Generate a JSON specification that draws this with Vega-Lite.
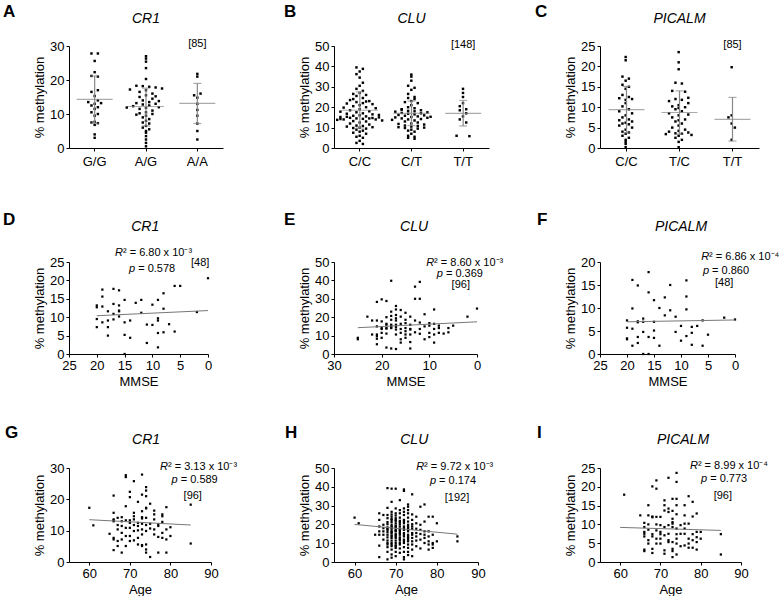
{
"$schema":"https://vega.github.io/schema/vega-lite/v6.json",
"background":"white",
"padding":{"left":3,"top":3,"right":0,"bottom":0},
"bounds":"flush",
"columns":3,
"spacing":{"row":114,"column":111},
"config":{
 "font":"Liberation Sans",
 "view":{"stroke":null},
 "axis":{"grid":false,"domainColor":"#000","tickColor":"#000","labelColor":"#000","titleColor":"#000","labelFontSize":13,"titleFontSize":13,"titleFontWeight":"normal","tickSize":3,"labelPadding":2,"labelFlush":false,"labelOverlap":false,"labelBound":false,"titlePadding":3},
 "title":{"fontSize":17,"fontWeight":"bold","anchor":"start","frame":"group","color":"#000","offset":-9,"font":"Liberation Sans"}
},
"datasets":{
"A":[{"g":"G/G","v":27.8,"k":-1},{"g":"G/G","v":27.8,"k":1},{"g":"G/G","v":25.6,"k":0},{"g":"G/G","v":22.3,"k":0},{"g":"G/G","v":21.2,"k":-1},{"g":"G/G","v":21.0,"k":1},{"g":"G/G","v":17.0,"k":1},{"g":"G/G","v":16.5,"k":-1},{"g":"G/G","v":15.3,"k":0},{"g":"G/G","v":14.0,"k":1},{"g":"G/G","v":13.5,"k":-2},{"g":"G/G","v":13.0,"k":0},{"g":"G/G","v":13.2,"k":2},{"g":"G/G","v":12.5,"k":-1},{"g":"G/G","v":12.0,"k":1},{"g":"G/G","v":11.5,"k":0},{"g":"G/G","v":10.5,"k":-1},{"g":"G/G","v":10.0,"k":1},{"g":"G/G","v":9.5,"k":0},{"g":"G/G","v":7.5,"k":-1},{"g":"G/G","v":7.3,"k":1},{"g":"G/G","v":7.7,"k":0},{"g":"G/G","v":6.8,"k":0},{"g":"G/G","v":4.0,"k":0},{"g":"G/G","v":3.0,"k":0},
{"g":"A/G","v":27.0,"k":0},{"g":"A/G","v":26.3,"k":0},{"g":"A/G","v":25.4,"k":0},{"g":"A/G","v":23.5,"k":0},{"g":"A/G","v":20.3,"k":0},{"g":"A/G","v":18.3,"k":-3},{"g":"A/G","v":18.2,"k":-1},{"g":"A/G","v":18.0,"k":1},{"g":"A/G","v":17.8,"k":3},{"g":"A/G","v":17.5,"k":5},{"g":"A/G","v":17.2,"k":-5},{"g":"A/G","v":17.0,"k":0},{"g":"A/G","v":16.5,"k":-2},{"g":"A/G","v":16.0,"k":2},{"g":"A/G","v":15.5,"k":0},{"g":"A/G","v":15.0,"k":-2},{"g":"A/G","v":14.5,"k":2},{"g":"A/G","v":14.0,"k":-1},{"g":"A/G","v":13.5,"k":1},{"g":"A/G","v":13.2,"k":-3},{"g":"A/G","v":13.0,"k":3},{"g":"A/G","v":12.8,"k":-1},{"g":"A/G","v":12.5,"k":1},{"g":"A/G","v":12.3,"k":-4},{"g":"A/G","v":12.0,"k":4},{"g":"A/G","v":11.8,"k":0},{"g":"A/G","v":11.5,"k":-2},{"g":"A/G","v":11.0,"k":2},{"g":"A/G","v":10.5,"k":0},{"g":"A/G","v":10.2,"k":-2},{"g":"A/G","v":10.0,"k":2},{"g":"A/G","v":9.5,"k":0},{"g":"A/G","v":9.0,"k":-1},{"g":"A/G","v":8.5,"k":1},{"g":"A/G","v":8.0,"k":0},{"g":"A/G","v":7.5,"k":-1},{"g":"A/G","v":7.2,"k":1},{"g":"A/G","v":6.5,"k":0},{"g":"A/G","v":6.0,"k":-1},{"g":"A/G","v":5.5,"k":1},{"g":"A/G","v":5.0,"k":0},{"g":"A/G","v":4.5,"k":0},{"g":"A/G","v":3.5,"k":0},{"g":"A/G","v":2.5,"k":0},{"g":"A/G","v":1.5,"k":0},{"g":"A/G","v":0.5,"k":0},{"g":"A/G","v":13.8,"k":4},{"g":"A/G","v":15.2,"k":3},{"g":"A/G","v":9.8,"k":-3},{"g":"A/G","v":11.9,"k":-6},
{"g":"A/A","v":21.8,"k":0},{"g":"A/A","v":21.0,"k":0},{"g":"A/A","v":16.0,"k":1},{"g":"A/A","v":15.5,"k":-1},{"g":"A/A","v":14.8,"k":0},{"g":"A/A","v":13.0,"k":0},{"g":"A/A","v":11.2,"k":0},{"g":"A/A","v":9.5,"k":0},{"g":"A/A","v":7.2,"k":0},{"g":"A/A","v":5.0,"k":0},{"g":"A/A","v":2.5,"k":0}],
"As":[{"g":"G/G","m":14.3,"lo":7.3,"hi":21.2},{"g":"A/G","m":12.2,"lo":6.5,"hi":17.6},{"g":"A/A","m":13.1,"lo":7.2,"hi":19.0}],
"B":[{"g":"C/C","v":39.5,"k":-1},{"g":"C/C","v":38.8,"k":1},{"g":"C/C","v":37.5,"k":0},{"g":"C/C","v":36.2,"k":-1},{"g":"C/C","v":34.5,"k":0},{"g":"C/C","v":32.0,"k":1},{"g":"C/C","v":30.5,"k":0},{"g":"C/C","v":29.0,"k":-1},{"g":"C/C","v":28.0,"k":1},{"g":"C/C","v":27.0,"k":0},{"g":"C/C","v":26.5,"k":-2},{"g":"C/C","v":26.0,"k":2},{"g":"C/C","v":25.5,"k":-1},{"g":"C/C","v":24.5,"k":1},{"g":"C/C","v":23.5,"k":-3},{"g":"C/C","v":23.0,"k":3},{"g":"C/C","v":22.5,"k":-1},{"g":"C/C","v":22.0,"k":1},{"g":"C/C","v":21.8,"k":-4},{"g":"C/C","v":21.5,"k":4},{"g":"C/C","v":21.0,"k":0},{"g":"C/C","v":20.5,"k":-2},{"g":"C/C","v":20.0,"k":2},{"g":"C/C","v":19.8,"k":-5},{"g":"C/C","v":19.5,"k":5},{"g":"C/C","v":19.0,"k":0},{"g":"C/C","v":18.5,"k":-3},{"g":"C/C","v":18.0,"k":3},{"g":"C/C","v":17.5,"k":-1},{"g":"C/C","v":17.0,"k":1},{"g":"C/C","v":16.8,"k":-4},{"g":"C/C","v":16.5,"k":4},{"g":"C/C","v":16.0,"k":0},{"g":"C/C","v":15.8,"k":-2},{"g":"C/C","v":15.5,"k":2},{"g":"C/C","v":15.2,"k":-6},{"g":"C/C","v":15.0,"k":6},{"g":"C/C","v":14.8,"k":-3},{"g":"C/C","v":14.5,"k":3},{"g":"C/C","v":14.5,"k":-1},{"g":"C/C","v":14.3,"k":1},{"g":"C/C","v":14.0,"k":-5},{"g":"C/C","v":14.0,"k":5},{"g":"C/C","v":13.8,"k":-7},{"g":"C/C","v":13.5,"k":7},{"g":"C/C","v":13.2,"k":-2},{"g":"C/C","v":13.0,"k":2},{"g":"C/C","v":12.5,"k":0},{"g":"C/C","v":12.0,"k":-3},{"g":"C/C","v":11.5,"k":3},{"g":"C/C","v":11.0,"k":-1},{"g":"C/C","v":10.8,"k":1},{"g":"C/C","v":10.5,"k":-4},{"g":"C/C","v":10.2,"k":4},{"g":"C/C","v":10.0,"k":0},{"g":"C/C","v":9.8,"k":-2},{"g":"C/C","v":9.5,"k":2},{"g":"C/C","v":9.0,"k":-1},{"g":"C/C","v":8.5,"k":1},{"g":"C/C","v":8.0,"k":0},{"g":"C/C","v":7.5,"k":-2},{"g":"C/C","v":7.0,"k":2},{"g":"C/C","v":6.0,"k":0},{"g":"C/C","v":5.5,"k":-1},{"g":"C/C","v":5.0,"k":1},{"g":"C/C","v":3.5,"k":0},{"g":"C/C","v":2.5,"k":-1},{"g":"C/C","v":2.0,"k":1},{"g":"C/C","v":24.0,"k":-2},{"g":"C/C","v":22.8,"k":2},{"g":"C/C","v":17.8,"k":-6},{"g":"C/C","v":16.2,"k":6},{"g":"C/C","v":15.3,"k":-4},{"g":"C/C","v":14.7,"k":4},{"g":"C/C","v":14.2,"k":-6},
{"g":"C/T","v":36.0,"k":0},{"g":"C/T","v":35.0,"k":0},{"g":"C/T","v":33.0,"k":0},{"g":"C/T","v":30.5,"k":-1},{"g":"C/T","v":29.5,"k":1},{"g":"C/T","v":28.5,"k":0},{"g":"C/T","v":26.5,"k":-1},{"g":"C/T","v":25.0,"k":1},{"g":"C/T","v":24.5,"k":-1},{"g":"C/T","v":24.0,"k":1},{"g":"C/T","v":23.0,"k":0},{"g":"C/T","v":22.5,"k":-2},{"g":"C/T","v":22.0,"k":2},{"g":"C/T","v":21.0,"k":0},{"g":"C/T","v":20.0,"k":-1},{"g":"C/T","v":19.5,"k":1},{"g":"C/T","v":19.0,"k":-3},{"g":"C/T","v":18.5,"k":3},{"g":"C/T","v":18.2,"k":-1},{"g":"C/T","v":18.0,"k":1},{"g":"C/T","v":17.8,"k":-5},{"g":"C/T","v":17.5,"k":5},{"g":"C/T","v":17.2,"k":-3},{"g":"C/T","v":17.0,"k":3},{"g":"C/T","v":16.8,"k":-1},{"g":"C/T","v":16.5,"k":1},{"g":"C/T","v":16.2,"k":-4},{"g":"C/T","v":16.0,"k":4},{"g":"C/T","v":15.8,"k":-2},{"g":"C/T","v":15.5,"k":2},{"g":"C/T","v":15.2,"k":0},{"g":"C/T","v":15.0,"k":-5},{"g":"C/T","v":14.8,"k":5},{"g":"C/T","v":14.5,"k":-3},{"g":"C/T","v":14.2,"k":3},{"g":"C/T","v":14.0,"k":-1},{"g":"C/T","v":13.5,"k":1},{"g":"C/T","v":13.0,"k":-2},{"g":"C/T","v":12.5,"k":2},{"g":"C/T","v":12.0,"k":0},{"g":"C/T","v":11.8,"k":-4},{"g":"C/T","v":11.5,"k":4},{"g":"C/T","v":11.0,"k":-2},{"g":"C/T","v":10.8,"k":2},{"g":"C/T","v":10.5,"k":0},{"g":"C/T","v":10.2,"k":-4},{"g":"C/T","v":10.0,"k":4},{"g":"C/T","v":9.8,"k":-2},{"g":"C/T","v":9.5,"k":2},{"g":"C/T","v":9.0,"k":0},{"g":"C/T","v":8.5,"k":-1},{"g":"C/T","v":8.0,"k":1},{"g":"C/T","v":7.0,"k":0},{"g":"C/T","v":6.0,"k":-1},{"g":"C/T","v":5.5,"k":1},{"g":"C/T","v":5.0,"k":-1},{"g":"C/T","v":4.5,"k":1},{"g":"C/T","v":18.8,"k":-3},{"g":"C/T","v":15.3,"k":6},{"g":"C/T","v":13.8,"k":-6},
{"g":"T/T","v":29.0,"k":0},{"g":"T/T","v":27.0,"k":0},{"g":"T/T","v":25.0,"k":0},{"g":"T/T","v":22.0,"k":0},{"g":"T/T","v":20.5,"k":-1},{"g":"T/T","v":19.0,"k":1},{"g":"T/T","v":18.5,"k":-1},{"g":"T/T","v":17.0,"k":1},{"g":"T/T","v":15.5,"k":0},{"g":"T/T","v":14.0,"k":-1},{"g":"T/T","v":12.5,"k":1},{"g":"T/T","v":6.0,"k":-2},{"g":"T/T","v":5.8,"k":2}],
"Bs":[{"g":"C/C","m":18.5,"lo":9.8,"hi":27.5},{"g":"C/T","m":17.0,"lo":11.0,"hi":23.0},{"g":"T/T","m":17.0,"lo":10.8,"hi":23.3}],
"C":[{"g":"C/C","v":22.3,"k":0},{"g":"C/C","v":21.5,"k":0},{"g":"C/C","v":17.5,"k":-1},{"g":"C/C","v":17.0,"k":1},{"g":"C/C","v":16.5,"k":0},{"g":"C/C","v":15.5,"k":-1},{"g":"C/C","v":15.0,"k":1},{"g":"C/C","v":14.5,"k":0},{"g":"C/C","v":13.0,"k":-1},{"g":"C/C","v":12.5,"k":1},{"g":"C/C","v":12.2,"k":-2},{"g":"C/C","v":12.0,"k":2},{"g":"C/C","v":11.8,"k":0},{"g":"C/C","v":11.0,"k":0},{"g":"C/C","v":10.2,"k":-1},{"g":"C/C","v":9.5,"k":1},{"g":"C/C","v":9.0,"k":-2},{"g":"C/C","v":8.5,"k":2},{"g":"C/C","v":8.0,"k":0},{"g":"C/C","v":7.5,"k":-1},{"g":"C/C","v":7.0,"k":1},{"g":"C/C","v":6.8,"k":-2},{"g":"C/C","v":6.5,"k":2},{"g":"C/C","v":6.2,"k":0},{"g":"C/C","v":6.0,"k":-1},{"g":"C/C","v":5.8,"k":1},{"g":"C/C","v":5.5,"k":-2},{"g":"C/C","v":5.0,"k":2},{"g":"C/C","v":4.5,"k":0},{"g":"C/C","v":4.0,"k":-1},{"g":"C/C","v":3.8,"k":1},{"g":"C/C","v":3.5,"k":0},{"g":"C/C","v":3.0,"k":-1},{"g":"C/C","v":2.5,"k":1},{"g":"C/C","v":2.0,"k":0},{"g":"C/C","v":1.5,"k":0},{"g":"C/C","v":1.0,"k":0},{"g":"C/C","v":0.2,"k":0},
{"g":"T/C","v":23.5,"k":0},{"g":"T/C","v":21.0,"k":0},{"g":"T/C","v":19.3,"k":0},{"g":"T/C","v":16.0,"k":-1},{"g":"T/C","v":15.8,"k":1},{"g":"T/C","v":14.0,"k":-2},{"g":"T/C","v":13.8,"k":2},{"g":"T/C","v":12.0,"k":-1},{"g":"T/C","v":11.8,"k":1},{"g":"T/C","v":11.5,"k":-3},{"g":"T/C","v":11.0,"k":3},{"g":"T/C","v":10.5,"k":0},{"g":"T/C","v":10.2,"k":-2},{"g":"T/C","v":10.0,"k":2},{"g":"T/C","v":9.8,"k":0},{"g":"T/C","v":9.5,"k":-1},{"g":"T/C","v":9.0,"k":1},{"g":"T/C","v":8.5,"k":-3},{"g":"T/C","v":8.2,"k":3},{"g":"T/C","v":8.0,"k":0},{"g":"T/C","v":7.5,"k":-2},{"g":"T/C","v":7.0,"k":2},{"g":"T/C","v":6.8,"k":0},{"g":"T/C","v":6.5,"k":-1},{"g":"T/C","v":6.0,"k":1},{"g":"T/C","v":5.5,"k":0},{"g":"T/C","v":5.0,"k":-2},{"g":"T/C","v":4.5,"k":2},{"g":"T/C","v":4.2,"k":0},{"g":"T/C","v":4.0,"k":-3},{"g":"T/C","v":3.8,"k":3},{"g":"T/C","v":3.6,"k":-1},{"g":"T/C","v":3.5,"k":1},{"g":"T/C","v":3.4,"k":-4},{"g":"T/C","v":3.2,"k":4},{"g":"T/C","v":3.0,"k":0},{"g":"T/C","v":2.5,"k":-1},{"g":"T/C","v":2.0,"k":1},{"g":"T/C","v":1.5,"k":0},{"g":"T/C","v":0.2,"k":0},{"g":"T/C","v":12.3,"k":3},
{"g":"T/T","v":19.8,"k":0},{"g":"T/T","v":8.0,"k":0},{"g":"T/T","v":7.5,"k":-1},{"g":"T/T","v":6.0,"k":0},{"g":"T/T","v":5.0,"k":1},{"g":"T/T","v":2.0,"k":0}],
"Cs":[{"g":"C/C","m":9.4,"lo":3.7,"hi":15.1},{"g":"T/C","m":8.7,"lo":3.4,"hi":14.0},{"g":"T/T","m":7.0,"lo":1.7,"hi":12.4}],
"D":[{"x":20,"y":12.7},{"x":20,"y":13.2},{"x":20,"y":9.5},{"x":20,"y":7.3},{"x":19,"y":17.5},{"x":19,"y":15.6},{"x":19,"y":12.9},{"x":19,"y":8.6},{"x":18,"y":11.6},{"x":18,"y":9.1},{"x":18,"y":7.3},{"x":18,"y":5.0},{"x":17,"y":17.7},{"x":17,"y":13.6},{"x":17,"y":10.9},{"x":17,"y":9.4},{"x":16,"y":17.3},{"x":16,"y":13.2},{"x":16,"y":11.8},{"x":16,"y":11.6},{"x":16,"y":10.2},{"x":15,"y":14.7},{"x":15,"y":8.6},{"x":15,"y":5.2},{"x":15,"y":0},{"x":14,"y":9.1},{"x":14,"y":4.4},{"x":13,"y":13.9},{"x":12,"y":14.7},{"x":12,"y":11.2},{"x":11,"y":8.0},{"x":11,"y":3.0},{"x":10,"y":13.4},{"x":10,"y":7.9},{"x":9,"y":14.7},{"x":9,"y":9.7},{"x":9,"y":9.1},{"x":9,"y":5.7},{"x":9,"y":1.8},{"x":8,"y":16.5},{"x":8,"y":12.3},{"x":8,"y":5.9},{"x":7,"y":8.1},{"x":6,"y":18.5},{"x":6,"y":6.1},{"x":5,"y":18.5},{"x":2,"y":11.4},{"x":0,"y":20.6}],
"Dl":[{"x":20,"y":10.4},{"x":0,"y":11.8}],
"E":[{"x":25,"y":8.0},{"x":25,"y":8.8},{"x":23,"y":20.3},{"x":22,"y":18.2},{"x":22,"y":10.6},{"x":21,"y":28.3},{"x":21,"y":18.2},{"x":21,"y":15.0},{"x":21,"y":10.6},{"x":21,"y":9.7},{"x":21,"y":8.3},{"x":21,"y":5.3},{"x":20,"y":29.7},{"x":20,"y":17.7},{"x":20,"y":14.1},{"x":20,"y":13.6},{"x":20,"y":8.8},{"x":20,"y":11.5},{"x":19,"y":28.8},{"x":19,"y":20.0},{"x":19,"y":16.4},{"x":19,"y":15.9},{"x":19,"y":14.1},{"x":19,"y":13.8},{"x":19,"y":3.5},{"x":19,"y":11.1},{"x":18,"y":39.8},{"x":18,"y":23.0},{"x":18,"y":20.7},{"x":18,"y":15.9},{"x":18,"y":15.4},{"x":18,"y":14.5},{"x":18,"y":14.1},{"x":18,"y":3.0},{"x":18,"y":18.6},{"x":17,"y":26.1},{"x":17,"y":24.2},{"x":17,"y":21.2},{"x":17,"y":19.4},{"x":17,"y":18.2},{"x":17,"y":15.9},{"x":17,"y":13.3},{"x":17,"y":10.6},{"x":17,"y":2.7},{"x":17,"y":14.7},{"x":16,"y":23.9},{"x":16,"y":20.3},{"x":16,"y":16.4},{"x":16,"y":13.6},{"x":16,"y":11.5},{"x":16,"y":8.0},{"x":16,"y":6.2},{"x":15,"y":22.4},{"x":15,"y":18.6},{"x":15,"y":16.8},{"x":15,"y":14.1},{"x":15,"y":10.6},{"x":15,"y":8.8},{"x":15,"y":12.4},{"x":14,"y":20.3},{"x":14,"y":15.9},{"x":14,"y":13.6},{"x":14,"y":13.3},{"x":14,"y":6.5},{"x":14,"y":3.0},{"x":14,"y":10.6},{"x":13,"y":36.6},{"x":13,"y":30.0},{"x":13,"y":18.2},{"x":13,"y":11.8},{"x":12,"y":39.2},{"x":12,"y":30.0},{"x":12,"y":17.1},{"x":12,"y":13.6},{"x":12,"y":11.0},{"x":11,"y":21.6},{"x":11,"y":15.0},{"x":11,"y":8.0},{"x":10,"y":16.8},{"x":10,"y":15.4},{"x":10,"y":11.5},{"x":10,"y":9.2},{"x":9,"y":24.2},{"x":9,"y":16.4},{"x":9,"y":13.6},{"x":9,"y":10.6},{"x":9,"y":6.2},{"x":8,"y":15.4},{"x":8,"y":14.1},{"x":8,"y":11.5},{"x":7,"y":11.1},{"x":6,"y":14.1},{"x":6,"y":11.8},{"x":5,"y":15.4},{"x":2,"y":20.3},{"x":0,"y":24.7}],
"El":[{"x":25,"y":14.3},{"x":0,"y":17.5}],
"F":[{"x":20,"y":7.3},{"x":20,"y":5.7},{"x":20,"y":3.4},{"x":20,"y":3.2},{"x":19,"y":16.1},{"x":19,"y":9.9},{"x":19,"y":5.5},{"x":19,"y":1.8},{"x":18,"y":14.9},{"x":18,"y":7.1},{"x":18,"y":3.7},{"x":18,"y":2.4},{"x":18,"y":6.9},{"x":17,"y":7.7},{"x":17,"y":7.0},{"x":17,"y":4.8},{"x":17,"y":0},{"x":16,"y":17.8},{"x":16,"y":13.4},{"x":16,"y":3.7},{"x":16,"y":0},{"x":15,"y":11.7},{"x":15,"y":7.0},{"x":15,"y":5.1},{"x":15,"y":3.5},{"x":14,"y":10.0},{"x":14,"y":1.8},{"x":13,"y":12.3},{"x":13,"y":8.4},{"x":12,"y":15.0},{"x":12,"y":9.5},{"x":11,"y":8.1},{"x":11,"y":4.8},{"x":10,"y":6.1},{"x":10,"y":2.9},{"x":9,"y":16.0},{"x":9,"y":12.5},{"x":9,"y":9.7},{"x":9,"y":3.9},{"x":8,"y":5.9},{"x":8,"y":4.6},{"x":8,"y":2.0},{"x":7,"y":6.1},{"x":6,"y":7.3},{"x":6,"y":1.8},{"x":5,"y":4.2},{"x":2,"y":7.9},{"x":0,"y":7.5}],
"Fl":[{"x":20,"y":7.0},{"x":0,"y":7.4}],
"G":[{"x":60,"y":17.3},{"x":61,"y":11.7},{"x":65,"y":9.0},{"x":66,"y":21.2},{"x":66,"y":15.7},{"x":66,"y":13.6},{"x":66,"y":13.0},{"x":66,"y":7.7},{"x":66,"y":7.2},{"x":66,"y":3.8},{"x":66,"y":13.3},{"x":67,"y":14.1},{"x":67,"y":10.4},{"x":67,"y":6.7},{"x":67,"y":5.1},{"x":67,"y":11.8},{"x":68,"y":14.3},{"x":68,"y":13.0},{"x":68,"y":9.3},{"x":68,"y":7.2},{"x":68,"y":3.0},{"x":68,"y":11.5},{"x":69,"y":27.7},{"x":69,"y":27.1},{"x":69,"y":17.8},{"x":69,"y":13.3},{"x":69,"y":10.9},{"x":69,"y":8.3},{"x":69,"y":5.1},{"x":70,"y":22.4},{"x":70,"y":20.7},{"x":70,"y":13.3},{"x":70,"y":12.5},{"x":70,"y":8.3},{"x":70,"y":6.7},{"x":70,"y":10.9},{"x":71,"y":25.8},{"x":71,"y":15.7},{"x":71,"y":14.6},{"x":71,"y":13.6},{"x":71,"y":9.9},{"x":71,"y":6.9},{"x":71,"y":11.8},{"x":72,"y":19.2},{"x":72,"y":12.5},{"x":72,"y":11.5},{"x":72,"y":10.1},{"x":72,"y":5.6},{"x":72,"y":7.7},{"x":73,"y":27.9},{"x":73,"y":21.5},{"x":73,"y":16.2},{"x":73,"y":14.3},{"x":73,"y":12.2},{"x":73,"y":10.4},{"x":73,"y":8.8},{"x":73,"y":5.4},{"x":73,"y":5.1},{"x":73,"y":13.9},{"x":74,"y":23.9},{"x":74,"y":22.8},{"x":74,"y":21.0},{"x":74,"y":17.3},{"x":74,"y":17.1},{"x":74,"y":14.1},{"x":74,"y":11.8},{"x":74,"y":9.9},{"x":74,"y":5.6},{"x":74,"y":4.0},{"x":74,"y":3.0},{"x":75,"y":18.6},{"x":75,"y":12.2},{"x":75,"y":1.6},{"x":75,"y":10.7},{"x":76,"y":16.4},{"x":76,"y":15.2},{"x":76,"y":13.6},{"x":76,"y":8.8},{"x":76,"y":10.4},{"x":77,"y":12.0},{"x":77,"y":11.5},{"x":77,"y":8.0},{"x":77,"y":3.0},{"x":78,"y":15.2},{"x":78,"y":14.6},{"x":78,"y":12.8},{"x":78,"y":9.3},{"x":78,"y":7.7},{"x":79,"y":17.5},{"x":79,"y":10.4},{"x":79,"y":7.2},{"x":79,"y":3.0},{"x":80,"y":11.1},{"x":80,"y":8.3},{"x":85,"y":18.3},{"x":85,"y":5.9}],
"Gl":[{"x":60,"y":13.5},{"x":85,"y":11.8}],
"H":[{"x":60,"y":23.6},{"x":61,"y":20.6},{"x":65,"y":14.5},{"x":66,"y":25.9},{"x":66,"y":22.4},{"x":66,"y":18.9},{"x":66,"y":14.5},{"x":66,"y":8.7},{"x":66,"y":2.6},{"x":66,"y":16.3},{"x":67,"y":25.0},{"x":67,"y":19.8},{"x":67,"y":16.3},{"x":67,"y":14.5},{"x":67,"y":11.9},{"x":67,"y":18.0},{"x":68,"y":39.3},{"x":68,"y":28.8},{"x":68,"y":23.3},{"x":68,"y":20.1},{"x":68,"y":18.4},{"x":68,"y":17.1},{"x":68,"y":15.9},{"x":68,"y":14.5},{"x":68,"y":13.1},{"x":68,"y":11.4},{"x":68,"y":9.3},{"x":68,"y":5.4},{"x":68,"y":1.4},{"x":68,"y":25.0},{"x":68,"y":21.2},{"x":68,"y":17.7},{"x":68,"y":10.1},{"x":68,"y":7.9},{"x":69,"y":39.0},{"x":69,"y":32.0},{"x":69,"y":26.7},{"x":69,"y":25.3},{"x":69,"y":24.1},{"x":69,"y":22.4},{"x":69,"y":21.2},{"x":69,"y":19.8},{"x":69,"y":18.9},{"x":69,"y":17.7},{"x":69,"y":16.6},{"x":69,"y":15.4},{"x":69,"y":14.2},{"x":69,"y":12.8},{"x":69,"y":11.4},{"x":69,"y":10.1},{"x":69,"y":8.4},{"x":69,"y":6.6},{"x":69,"y":4.0},{"x":69,"y":2.3},{"x":69,"y":22.9},{"x":69,"y":18.4},{"x":69,"y":15.9},{"x":69,"y":13.6},{"x":69,"y":9.3},{"x":70,"y":39.0},{"x":70,"y":28.5},{"x":70,"y":25.9},{"x":70,"y":24.7},{"x":70,"y":23.3},{"x":70,"y":21.9},{"x":70,"y":20.6},{"x":70,"y":19.4},{"x":70,"y":18.4},{"x":70,"y":17.1},{"x":70,"y":16.3},{"x":70,"y":14.9},{"x":70,"y":13.6},{"x":70,"y":12.8},{"x":70,"y":11.4},{"x":70,"y":10.1},{"x":70,"y":8.9},{"x":70,"y":7.5},{"x":70,"y":5.4},{"x":70,"y":3.1},{"x":70,"y":22.4},{"x":70,"y":18.9},{"x":70,"y":16.6},{"x":70,"y":14.2},{"x":70,"y":8.4},{"x":71,"y":32.9},{"x":71,"y":27.6},{"x":71,"y":25.9},{"x":71,"y":23.6},{"x":71,"y":21.9},{"x":71,"y":20.1},{"x":71,"y":18.9},{"x":71,"y":17.7},{"x":71,"y":16.3},{"x":71,"y":14.5},{"x":71,"y":13.1},{"x":71,"y":11.4},{"x":71,"y":9.3},{"x":71,"y":7.2},{"x":71,"y":4.9},{"x":71,"y":21.2},{"x":71,"y":17.1},{"x":71,"y":15.4},{"x":71,"y":12.3},{"x":71,"y":10.1},{"x":72,"y":38.6},{"x":72,"y":37.8},{"x":72,"y":28.5},{"x":72,"y":25.0},{"x":72,"y":22.4},{"x":72,"y":20.6},{"x":72,"y":18.9},{"x":72,"y":17.1},{"x":72,"y":15.4},{"x":72,"y":13.6},{"x":72,"y":11.9},{"x":72,"y":10.1},{"x":72,"y":7.9},{"x":72,"y":5.4},{"x":72,"y":2.6},{"x":72,"y":1.4},{"x":72,"y":26.7},{"x":72,"y":21.5},{"x":72,"y":18.0},{"x":72,"y":14.5},{"x":72,"y":11.0},{"x":73,"y":30.6},{"x":73,"y":29.4},{"x":73,"y":27.6},{"x":73,"y":25.9},{"x":73,"y":23.6},{"x":73,"y":21.5},{"x":73,"y":19.8},{"x":73,"y":18.0},{"x":73,"y":16.3},{"x":73,"y":14.5},{"x":73,"y":12.8},{"x":73,"y":11.0},{"x":73,"y":9.3},{"x":73,"y":7.5},{"x":73,"y":5.4},{"x":73,"y":3.7},{"x":73,"y":18.9},{"x":73,"y":17.1},{"x":73,"y":13.6},{"x":73,"y":11.9},{"x":74,"y":36.0},{"x":74,"y":25.3},{"x":74,"y":22.4},{"x":74,"y":20.1},{"x":74,"y":17.7},{"x":74,"y":15.4},{"x":74,"y":12.8},{"x":74,"y":9.3},{"x":74,"y":6.6},{"x":74,"y":3.1},{"x":74,"y":18.9},{"x":74,"y":14.5},{"x":74,"y":11.0},{"x":75,"y":24.1},{"x":75,"y":20.6},{"x":75,"y":17.7},{"x":75,"y":15.4},{"x":75,"y":11.4},{"x":75,"y":8.4},{"x":75,"y":13.6},{"x":76,"y":29.4},{"x":76,"y":19.8},{"x":76,"y":17.1},{"x":76,"y":14.9},{"x":76,"y":11.9},{"x":76,"y":7.2},{"x":77,"y":30.6},{"x":77,"y":21.5},{"x":77,"y":16.3},{"x":77,"y":14.5},{"x":77,"y":10.1},{"x":77,"y":12.8},{"x":78,"y":24.1},{"x":78,"y":16.3},{"x":78,"y":11.0},{"x":78,"y":9.3},{"x":78,"y":6.6},{"x":78,"y":13.6},{"x":79,"y":24.1},{"x":79,"y":14.5},{"x":79,"y":10.1},{"x":79,"y":7.5},{"x":79,"y":9.3},{"x":80,"y":20.6},{"x":80,"y":11.0},{"x":85,"y":13.6},{"x":85,"y":11.0}],
"Hl":[{"x":60,"y":20.0},{"x":85,"y":14.8}],
"I":[{"x":61,"y":17.9},{"x":65,"y":12.4},{"x":66,"y":10.4},{"x":66,"y":8.0},{"x":66,"y":7.5},{"x":66,"y":6.8},{"x":66,"y":3.3},{"x":66,"y":2.9},{"x":66,"y":9.3},{"x":67,"y":15.1},{"x":67,"y":12.4},{"x":67,"y":10.0},{"x":67,"y":5.8},{"x":67,"y":4.9},{"x":67,"y":8.6},{"x":68,"y":20.1},{"x":68,"y":12.1},{"x":68,"y":7.4},{"x":68,"y":6.8},{"x":68,"y":3.5},{"x":68,"y":2.4},{"x":68,"y":11.9},{"x":69,"y":21.7},{"x":69,"y":19.5},{"x":69,"y":12.0},{"x":69,"y":8.4},{"x":69,"y":6.2},{"x":69,"y":4.9},{"x":69,"y":10.0},{"x":70,"y":12.0},{"x":70,"y":9.8},{"x":70,"y":8.0},{"x":70,"y":7.4},{"x":70,"y":4.9},{"x":70,"y":6.2},{"x":71,"y":16.4},{"x":71,"y":15.1},{"x":71,"y":13.7},{"x":71,"y":7.1},{"x":71,"y":3.1},{"x":71,"y":2.2},{"x":71,"y":9.3},{"x":72,"y":22.4},{"x":72,"y":14.2},{"x":72,"y":13.3},{"x":72,"y":9.8},{"x":72,"y":7.5},{"x":72,"y":5.3},{"x":72,"y":5.8},{"x":73,"y":16.8},{"x":73,"y":13.6},{"x":73,"y":11.5},{"x":73,"y":10.6},{"x":73,"y":10.2},{"x":73,"y":9.3},{"x":73,"y":5.3},{"x":73,"y":3.5},{"x":73,"y":2.9},{"x":73,"y":1.3},{"x":74,"y":23.7},{"x":74,"y":21.3},{"x":74,"y":16.8},{"x":74,"y":15.1},{"x":74,"y":12.7},{"x":74,"y":8.9},{"x":74,"y":7.4},{"x":74,"y":6.2},{"x":74,"y":4.9},{"x":74,"y":2.0},{"x":75,"y":9.8},{"x":75,"y":4.2},{"x":75,"y":7.5},{"x":76,"y":15.1},{"x":76,"y":12.4},{"x":76,"y":10.2},{"x":76,"y":7.5},{"x":76,"y":4.4},{"x":76,"y":8.9},{"x":77,"y":17.5},{"x":77,"y":10.2},{"x":77,"y":6.2},{"x":77,"y":4.9},{"x":77,"y":3.8},{"x":78,"y":16.0},{"x":78,"y":12.1},{"x":78,"y":7.4},{"x":78,"y":5.8},{"x":78,"y":3.8},{"x":79,"y":12.9},{"x":79,"y":8.0},{"x":79,"y":6.6},{"x":79,"y":5.3},{"x":79,"y":3.3},{"x":80,"y":8.0},{"x":80,"y":6.2},{"x":85,"y":7.4},{"x":85,"y":2.0}],
"Il":[{"x":60,"y":9.2},{"x":85,"y":8.4}]
},
"concat":[
{"width":154,"height":102,"title":{"text":"A","dx":-66},
 "layer":[
  {"data":{"name":"A"},"mark":{"type":"square","size":6,"color":"#000","opacity":1},
   "encoding":{"x":{"field":"g","type":"nominal","title":null,"scale":{"domain":["G/G","A/G","A/A"],"paddingInner":0,"paddingOuter":0},"axis":{"labelAngle":0,"labelPadding":4,"labelOverlap":false}},
   "xOffset":{"field":"k","type":"quantitative","scale":{"domain":[-8,8]}},
   "y":{"field":"v","type":"quantitative","title":"% methylation","scale":{"domain":[0,30],"nice":false},"axis":{"values":[0,10,20,30],"labelOverlap":false}}}},
  {"data":{"name":"As"},"mark":{"type":"rule","color":"#888","strokeWidth":1.2},"encoding":{"x":{"field":"g","type":"nominal","title":null,"axis":{"labelAngle":0,"labelPadding":4,"labelOverlap":false}},"y":{"field":"lo","type":"quantitative","title":"% methylation","axis":{"values":[0,10,20,30],"labelOverlap":false}},"y2":{"field":"hi"}}},
  {"data":{"name":"As"},"mark":{"type":"tick","color":"#888","thickness":1.2,"size":8,"orient":"horizontal"},"encoding":{"x":{"field":"g","type":"nominal","title":null,"axis":{"labelAngle":0,"labelPadding":4,"labelOverlap":false}},"y":{"field":"lo","type":"quantitative","title":"% methylation","axis":{"values":[0,10,20,30],"labelOverlap":false}}}},
  {"data":{"name":"As"},"mark":{"type":"tick","color":"#888","thickness":1.2,"size":8,"orient":"horizontal"},"encoding":{"x":{"field":"g","type":"nominal","title":null,"axis":{"labelAngle":0,"labelPadding":4,"labelOverlap":false}},"y":{"field":"hi","type":"quantitative","title":"% methylation","axis":{"values":[0,10,20,30],"labelOverlap":false}}}},
  {"data":{"name":"As"},"mark":{"type":"tick","color":"#888","thickness":1.2,"size":36,"orient":"horizontal"},"encoding":{"x":{"field":"g","type":"nominal","title":null,"axis":{"labelAngle":0,"labelPadding":4,"labelOverlap":false}},"y":{"field":"m","type":"quantitative","title":"% methylation","axis":{"values":[0,10,20,30],"labelOverlap":false}}}},
  {"data":{"values":[{}]},"mark":{"type":"text","fontSize":14,"fontStyle":"italic","baseline":"middle"},"encoding":{"x":{"datum":"A/G","axis":{"labelAngle":0,"labelPadding":4,"labelOverlap":false}},"y":{"datum":37.8,"axis":{"values":[0,10,20,30],"labelOverlap":false}},"text":{"value":"CR1"}}},
  {"data":{"values":[{}]},"mark":{"type":"text","fontSize":11,"baseline":"middle"},"encoding":{"x":{"datum":"A/A","axis":{"labelAngle":0,"labelPadding":4,"labelOverlap":false}},"y":{"datum":30.5,"axis":{"values":[0,10,20,30],"labelOverlap":false}},"text":{"value":"[85]"}}}
 ]},
{"width":155,"height":102,"title":{"text":"B","dx":-50},
 "layer":[
  {"data":{"name":"B"},"mark":{"type":"square","size":6,"color":"#000","opacity":1},
   "encoding":{"x":{"field":"g","type":"nominal","title":null,"scale":{"domain":["C/C","C/T","T/T"],"paddingInner":0,"paddingOuter":0},"axis":{"labelAngle":0,"labelPadding":4,"labelOverlap":false}},
   "xOffset":{"field":"k","type":"quantitative","scale":{"domain":[-8,8]}},
   "y":{"field":"v","type":"quantitative","title":"% methylation","scale":{"domain":[0,50],"nice":false},"axis":{"values":[0,10,20,30,40,50],"labelOverlap":false}}}},
  {"data":{"name":"Bs"},"mark":{"type":"rule","color":"#888","strokeWidth":1.2},"encoding":{"x":{"field":"g","type":"nominal","title":null,"axis":{"labelAngle":0,"labelPadding":4,"labelOverlap":false}},"y":{"field":"lo","type":"quantitative","title":"% methylation","axis":{"values":[0,10,20,30,40,50],"labelOverlap":false}},"y2":{"field":"hi"}}},
  {"data":{"name":"Bs"},"mark":{"type":"tick","color":"#888","thickness":1.2,"size":8,"orient":"horizontal"},"encoding":{"x":{"field":"g","type":"nominal","title":null,"axis":{"labelAngle":0,"labelPadding":4,"labelOverlap":false}},"y":{"field":"lo","type":"quantitative","title":"% methylation","axis":{"values":[0,10,20,30,40,50],"labelOverlap":false}}}},
  {"data":{"name":"Bs"},"mark":{"type":"tick","color":"#888","thickness":1.2,"size":8,"orient":"horizontal"},"encoding":{"x":{"field":"g","type":"nominal","title":null,"axis":{"labelAngle":0,"labelPadding":4,"labelOverlap":false}},"y":{"field":"hi","type":"quantitative","title":"% methylation","axis":{"values":[0,10,20,30,40,50],"labelOverlap":false}}}},
  {"data":{"name":"Bs"},"mark":{"type":"tick","color":"#888","thickness":1.2,"size":36,"orient":"horizontal"},"encoding":{"x":{"field":"g","type":"nominal","title":null,"axis":{"labelAngle":0,"labelPadding":4,"labelOverlap":false}},"y":{"field":"m","type":"quantitative","title":"% methylation","axis":{"values":[0,10,20,30,40,50],"labelOverlap":false}}}},
  {"data":{"values":[{}]},"mark":{"type":"text","fontSize":14,"fontStyle":"italic","baseline":"middle"},"encoding":{"x":{"datum":"C/T","axis":{"labelAngle":0,"labelPadding":4,"labelOverlap":false}},"y":{"datum":63,"axis":{"values":[0,10,20,30,40,50],"labelOverlap":false}},"text":{"value":"CLU"}}},
  {"data":{"values":[{}]},"mark":{"type":"text","fontSize":11,"baseline":"middle"},"encoding":{"x":{"datum":"T/T","axis":{"labelAngle":0,"labelPadding":4,"labelOverlap":false}},"y":{"datum":50.5,"axis":{"values":[0,10,20,30,40,50],"labelOverlap":false}},"text":{"value":"[148]"}}}
 ]},
{"width":159,"height":102,"title":{"text":"C","dx":-65},
 "layer":[
  {"data":{"name":"C"},"mark":{"type":"square","size":6,"color":"#000","opacity":1},
   "encoding":{"x":{"field":"g","type":"nominal","title":null,"scale":{"domain":["C/C","T/C","T/T"],"paddingInner":0,"paddingOuter":0},"axis":{"labelAngle":0,"labelPadding":4,"labelOverlap":false}},
   "xOffset":{"field":"k","type":"quantitative","scale":{"domain":[-8,8]}},
   "y":{"field":"v","type":"quantitative","title":"% methylation","scale":{"domain":[0,25],"nice":false},"axis":{"values":[0,5,10,15,20,25],"labelOverlap":false}}}},
  {"data":{"name":"Cs"},"mark":{"type":"rule","color":"#888","strokeWidth":1.2},"encoding":{"x":{"field":"g","type":"nominal","title":null,"axis":{"labelAngle":0,"labelPadding":4,"labelOverlap":false}},"y":{"field":"lo","type":"quantitative","title":"% methylation","axis":{"values":[0,5,10,15,20,25],"labelOverlap":false}},"y2":{"field":"hi"}}},
  {"data":{"name":"Cs"},"mark":{"type":"tick","color":"#888","thickness":1.2,"size":8,"orient":"horizontal"},"encoding":{"x":{"field":"g","type":"nominal","title":null,"axis":{"labelAngle":0,"labelPadding":4,"labelOverlap":false}},"y":{"field":"lo","type":"quantitative","title":"% methylation","axis":{"values":[0,5,10,15,20,25],"labelOverlap":false}}}},
  {"data":{"name":"Cs"},"mark":{"type":"tick","color":"#888","thickness":1.2,"size":8,"orient":"horizontal"},"encoding":{"x":{"field":"g","type":"nominal","title":null,"axis":{"labelAngle":0,"labelPadding":4,"labelOverlap":false}},"y":{"field":"hi","type":"quantitative","title":"% methylation","axis":{"values":[0,5,10,15,20,25],"labelOverlap":false}}}},
  {"data":{"name":"Cs"},"mark":{"type":"tick","color":"#888","thickness":1.2,"size":36,"orient":"horizontal"},"encoding":{"x":{"field":"g","type":"nominal","title":null,"axis":{"labelAngle":0,"labelPadding":4,"labelOverlap":false}},"y":{"field":"m","type":"quantitative","title":"% methylation","axis":{"values":[0,5,10,15,20,25],"labelOverlap":false}}}},
  {"data":{"values":[{}]},"mark":{"type":"text","fontSize":14,"fontStyle":"italic","baseline":"middle"},"encoding":{"x":{"datum":"T/C","axis":{"labelAngle":0,"labelPadding":4,"labelOverlap":false}},"y":{"datum":31.5,"axis":{"values":[0,5,10,15,20,25],"labelOverlap":false}},"text":{"value":"PICALM"}}},
  {"data":{"values":[{}]},"mark":{"type":"text","fontSize":11,"baseline":"middle"},"encoding":{"x":{"datum":"T/T","axis":{"labelAngle":0,"labelPadding":4,"labelOverlap":false}},"y":{"datum":25.2,"axis":{"values":[0,5,10,15,20,25],"labelOverlap":false}},"text":{"value":"[85]"}}}
 ]},
{"width":139,"height":92,"title":{"text":"D","dx":-66},
 "layer":[
  {"data":{"name":"D"},"mark":{"type":"square","size":5,"color":"#000","opacity":1},
   "encoding":{"x":{"field":"x","type":"quantitative","title":"MMSE","scale":{"domain":[0,25],"reverse":true,"nice":false},"axis":{"values":[25,20,15,10,5,0],"labelOverlap":false}},
   "y":{"field":"y","type":"quantitative","title":"% methylation","scale":{"domain":[0,25],"nice":false},"axis":{"values":[0,5,10,15,20,25],"labelOverlap":false}}}},
  {"data":{"name":"Dl"},"mark":{"type":"line","color":"#777","strokeWidth":1},"encoding":{"x":{"field":"x","type":"quantitative","title":"MMSE","axis":{"values":[25,20,15,10,5,0],"labelOverlap":false}},"y":{"field":"y","type":"quantitative","title":"% methylation","axis":{"values":[0,5,10,15,20,25],"labelOverlap":false}}}},
  {"data":{"values":[{}]},"mark":{"type":"text","fontSize":14,"fontStyle":"italic","baseline":"middle"},"encoding":{"x":{"datum":11.3,"axis":{"values":[25,20,15,10,5,0],"labelOverlap":false}},"y":{"datum":34.5,"axis":{"values":[0,5,10,15,20,25],"labelOverlap":false}},"text":{"value":"CR1"}}},
  {"data":{"values":[{}]},"mark":{"type":"text","fontSize":11,"fontStyle":"italic","baseline":"middle","align":"right"},"encoding":{"x":{"datum":15.3,"axis":{"values":[25,20,15,10,5,0],"labelOverlap":false}},"y":{"datum":27.4,"axis":{"values":[0,5,10,15,20,25],"labelOverlap":false}},"text":{"value":"R"}}},
  {"data":{"values":[{}]},"mark":{"type":"text","fontSize":11,"baseline":"middle","align":"left"},"encoding":{"x":{"datum":15.3,"axis":{"values":[25,20,15,10,5,0],"labelOverlap":false}},"y":{"datum":27.4,"axis":{"values":[0,5,10,15,20,25],"labelOverlap":false}},"text":{"value":"² = 6.80 x 10⁻³"}}},
  {"data":{"values":[{}]},"mark":{"type":"text","fontSize":11,"fontStyle":"italic","baseline":"middle","align":"right"},"encoding":{"x":{"datum":13.1,"axis":{"values":[25,20,15,10,5,0],"labelOverlap":false}},"y":{"datum":23.1,"axis":{"values":[0,5,10,15,20,25],"labelOverlap":false}},"text":{"value":"p"}}},
  {"data":{"values":[{}]},"mark":{"type":"text","fontSize":11,"baseline":"middle","align":"left","dx":3},"encoding":{"x":{"datum":13.1,"axis":{"values":[25,20,15,10,5,0],"labelOverlap":false}},"y":{"datum":23.1,"axis":{"values":[0,5,10,15,20,25],"labelOverlap":false}},"text":{"value":"= 0.578"}}},
  {"data":{"values":[{}]},"mark":{"type":"text","fontSize":11,"baseline":"middle"},"encoding":{"x":{"datum":1.4,"axis":{"values":[25,20,15,10,5,0],"labelOverlap":false}},"y":{"datum":24.7,"axis":{"values":[0,5,10,15,20,25],"labelOverlap":false}},"text":{"value":"[48]"}}}
 ]},
{"width":143,"height":92,"title":{"text":"E","dx":-50},
 "layer":[
  {"data":{"name":"E"},"mark":{"type":"square","size":5,"color":"#000","opacity":1},
   "encoding":{"x":{"field":"x","type":"quantitative","title":"MMSE","scale":{"domain":[0,30],"reverse":true,"nice":false},"axis":{"values":[30,20,10,0],"labelOverlap":false}},
   "y":{"field":"y","type":"quantitative","title":"% methylation","scale":{"domain":[0,50],"nice":false},"axis":{"values":[0,10,20,30,40,50],"labelOverlap":false}}}},
  {"data":{"name":"El"},"mark":{"type":"line","color":"#777","strokeWidth":1},"encoding":{"x":{"field":"x","type":"quantitative","title":"MMSE","axis":{"values":[30,20,10,0],"labelOverlap":false}},"y":{"field":"y","type":"quantitative","title":"% methylation","axis":{"values":[0,10,20,30,40,50],"labelOverlap":false}}}},
  {"data":{"values":[{}]},"mark":{"type":"text","fontSize":14,"fontStyle":"italic","baseline":"middle"},"encoding":{"x":{"datum":13.2,"axis":{"values":[30,20,10,0],"labelOverlap":false}},"y":{"datum":69,"axis":{"values":[0,10,20,30,40,50],"labelOverlap":false}},"text":{"value":"CLU"}}},
  {"data":{"values":[{}]},"mark":{"type":"text","fontSize":11,"fontStyle":"italic","baseline":"middle","align":"right"},"encoding":{"x":{"datum":9.0,"axis":{"values":[30,20,10,0],"labelOverlap":false}},"y":{"datum":49.5,"axis":{"values":[0,10,20,30,40,50],"labelOverlap":false}},"text":{"value":"R"}}},
  {"data":{"values":[{}]},"mark":{"type":"text","fontSize":11,"baseline":"middle","align":"left"},"encoding":{"x":{"datum":9.0,"axis":{"values":[30,20,10,0],"labelOverlap":false}},"y":{"datum":49.5,"axis":{"values":[0,10,20,30,40,50],"labelOverlap":false}},"text":{"value":"² = 8.60 x 10⁻³"}}},
  {"data":{"values":[{}]},"mark":{"type":"text","fontSize":11,"fontStyle":"italic","baseline":"middle","align":"right"},"encoding":{"x":{"datum":7.15,"axis":{"values":[30,20,10,0],"labelOverlap":false}},"y":{"datum":43.7,"axis":{"values":[0,10,20,30,40,50],"labelOverlap":false}},"text":{"value":"p"}}},
  {"data":{"values":[{}]},"mark":{"type":"text","fontSize":11,"baseline":"middle","align":"left","dx":3},"encoding":{"x":{"datum":7.15,"axis":{"values":[30,20,10,0],"labelOverlap":false}},"y":{"datum":43.7,"axis":{"values":[0,10,20,30,40,50],"labelOverlap":false}},"text":{"value":"= 0.369"}}},
  {"data":{"values":[{}]},"mark":{"type":"text","fontSize":11,"baseline":"middle"},"encoding":{"x":{"datum":3.4,"axis":{"values":[30,20,10,0],"labelOverlap":false}},"y":{"datum":37.4,"axis":{"values":[0,10,20,30,40,50],"labelOverlap":false}},"text":{"value":"[96]"}}}
 ]},
{"width":135,"height":92,"title":{"text":"F","dx":-63},
 "layer":[
  {"data":{"name":"F"},"mark":{"type":"square","size":5,"color":"#000","opacity":1},
   "encoding":{"x":{"field":"x","type":"quantitative","title":"MMSE","scale":{"domain":[0,25],"reverse":true,"nice":false},"axis":{"values":[25,20,15,10,5,0],"labelOverlap":false}},
   "y":{"field":"y","type":"quantitative","title":"% methylation","scale":{"domain":[0,20],"nice":false},"axis":{"values":[0,5,10,15,20],"labelOverlap":false}}}},
  {"data":{"name":"Fl"},"mark":{"type":"line","color":"#777","strokeWidth":1},"encoding":{"x":{"field":"x","type":"quantitative","title":"MMSE","axis":{"values":[25,20,15,10,5,0],"labelOverlap":false}},"y":{"field":"y","type":"quantitative","title":"% methylation","axis":{"values":[0,5,10,15,20],"labelOverlap":false}}}},
  {"data":{"values":[{}]},"mark":{"type":"text","fontSize":14,"fontStyle":"italic","baseline":"middle"},"encoding":{"x":{"datum":10,"axis":{"values":[25,20,15,10,5,0],"labelOverlap":false}},"y":{"datum":27.6,"axis":{"values":[0,5,10,15,20],"labelOverlap":false}},"text":{"value":"PICALM"}}},
  {"data":{"values":[{}]},"mark":{"type":"text","fontSize":11,"fontStyle":"italic","baseline":"middle","align":"right"},"encoding":{"x":{"datum":4.8,"axis":{"values":[25,20,15,10,5,0],"labelOverlap":false}},"y":{"datum":21.1,"axis":{"values":[0,5,10,15,20],"labelOverlap":false}},"text":{"value":"R"}}},
  {"data":{"values":[{}]},"mark":{"type":"text","fontSize":11,"baseline":"middle","align":"left"},"encoding":{"x":{"datum":4.8,"axis":{"values":[25,20,15,10,5,0],"labelOverlap":false}},"y":{"datum":21.1,"axis":{"values":[0,5,10,15,20],"labelOverlap":false}},"text":{"value":"² = 6.86 x 10⁻⁴"}}},
  {"data":{"values":[{}]},"mark":{"type":"text","fontSize":11,"fontStyle":"italic","baseline":"middle","align":"right"},"encoding":{"x":{"datum":4.8,"axis":{"values":[25,20,15,10,5,0],"labelOverlap":false}},"y":{"datum":18.0,"axis":{"values":[0,5,10,15,20],"labelOverlap":false}},"text":{"value":"p"}}},
  {"data":{"values":[{}]},"mark":{"type":"text","fontSize":11,"baseline":"middle","align":"left","dx":3},"encoding":{"x":{"datum":4.8,"axis":{"values":[25,20,15,10,5,0],"labelOverlap":false}},"y":{"datum":18.0,"axis":{"values":[0,5,10,15,20],"labelOverlap":false}},"text":{"value":"= 0.860"}}},
  {"data":{"values":[{}]},"mark":{"type":"text","fontSize":11,"baseline":"middle"},"encoding":{"x":{"datum":2.0,"axis":{"values":[25,20,15,10,5,0],"labelOverlap":false}},"y":{"datum":15.4,"axis":{"values":[0,5,10,15,20],"labelOverlap":false}},"text":{"value":"[48]"}}}
 ]},
{"width":142,"height":94,"title":{"text":"G","dx":-64},
 "layer":[
  {"data":{"name":"G"},"mark":{"type":"square","size":5,"color":"#000","opacity":1},
   "encoding":{"x":{"field":"x","type":"quantitative","title":"Age","scale":{"domain":[55,90],"nice":false},"axis":{"values":[60,70,80,90],"labelOverlap":false}},
   "y":{"field":"y","type":"quantitative","title":"% methylation","scale":{"domain":[0,30],"nice":false},"axis":{"values":[0,10,20,30],"labelOverlap":false}}}},
  {"data":{"name":"Gl"},"mark":{"type":"line","color":"#777","strokeWidth":1},"encoding":{"x":{"field":"x","type":"quantitative","title":"Age","axis":{"values":[60,70,80,90],"labelOverlap":false}},"y":{"field":"y","type":"quantitative","title":"% methylation","axis":{"values":[0,10,20,30],"labelOverlap":false}}}},
  {"data":{"values":[{}]},"mark":{"type":"text","fontSize":14,"fontStyle":"italic","baseline":"middle"},"encoding":{"x":{"datum":74,"axis":{"values":[60,70,80,90],"labelOverlap":false}},"y":{"datum":39,"axis":{"values":[0,10,20,30],"labelOverlap":false}},"text":{"value":"CR1"}}},
  {"data":{"values":[{}]},"mark":{"type":"text","fontSize":11,"fontStyle":"italic","baseline":"middle","align":"right"},"encoding":{"x":{"datum":79.4,"axis":{"values":[60,70,80,90],"labelOverlap":false}},"y":{"datum":30.3,"axis":{"values":[0,10,20,30],"labelOverlap":false}},"text":{"value":"R"}}},
  {"data":{"values":[{}]},"mark":{"type":"text","fontSize":11,"baseline":"middle","align":"left"},"encoding":{"x":{"datum":79.4,"axis":{"values":[60,70,80,90],"labelOverlap":false}},"y":{"datum":30.3,"axis":{"values":[0,10,20,30],"labelOverlap":false}},"text":{"value":"² = 3.13 x 10⁻³"}}},
  {"data":{"values":[{}]},"mark":{"type":"text","fontSize":11,"fontStyle":"italic","baseline":"middle","align":"right"},"encoding":{"x":{"datum":81.8,"axis":{"values":[60,70,80,90],"labelOverlap":false}},"y":{"datum":26.2,"axis":{"values":[0,10,20,30],"labelOverlap":false}},"text":{"value":"p"}}},
  {"data":{"values":[{}]},"mark":{"type":"text","fontSize":11,"baseline":"middle","align":"left","dx":3},"encoding":{"x":{"datum":81.8,"axis":{"values":[60,70,80,90],"labelOverlap":false}},"y":{"datum":26.2,"axis":{"values":[0,10,20,30],"labelOverlap":false}},"text":{"value":"= 0.589"}}},
  {"data":{"values":[{}]},"mark":{"type":"text","fontSize":11,"baseline":"middle"},"encoding":{"x":{"datum":85.5,"axis":{"values":[60,70,80,90],"labelOverlap":false}},"y":{"datum":21,"axis":{"values":[0,10,20,30],"labelOverlap":false}},"text":{"value":"[96]"}}}
 ]},
{"width":144,"height":94,"title":{"text":"H","dx":-49},
 "layer":[
  {"data":{"name":"H"},"mark":{"type":"square","size":5,"color":"#000","opacity":1},
   "encoding":{"x":{"field":"x","type":"quantitative","title":"Age","scale":{"domain":[55,90],"nice":false},"axis":{"values":[60,70,80,90],"labelOverlap":false}},
   "y":{"field":"y","type":"quantitative","title":"% methylation","scale":{"domain":[0,50],"nice":false},"axis":{"values":[0,10,20,30,40,50],"labelOverlap":false}}}},
  {"data":{"name":"Hl"},"mark":{"type":"line","color":"#777","strokeWidth":1},"encoding":{"x":{"field":"x","type":"quantitative","title":"Age","axis":{"values":[60,70,80,90],"labelOverlap":false}},"y":{"field":"y","type":"quantitative","title":"% methylation","axis":{"values":[0,10,20,30,40,50],"labelOverlap":false}}}},
  {"data":{"values":[{}]},"mark":{"type":"text","fontSize":14,"fontStyle":"italic","baseline":"middle"},"encoding":{"x":{"datum":74.5,"axis":{"values":[60,70,80,90],"labelOverlap":false}},"y":{"datum":64.9,"axis":{"values":[0,10,20,30,40,50],"labelOverlap":false}},"text":{"value":"CLU"}}},
  {"data":{"values":[{}]},"mark":{"type":"text","fontSize":11,"fontStyle":"italic","baseline":"middle","align":"right"},"encoding":{"x":{"datum":76.9,"axis":{"values":[60,70,80,90],"labelOverlap":false}},"y":{"datum":50.5,"axis":{"values":[0,10,20,30,40,50],"labelOverlap":false}},"text":{"value":"R"}}},
  {"data":{"values":[{}]},"mark":{"type":"text","fontSize":11,"baseline":"middle","align":"left"},"encoding":{"x":{"datum":76.9,"axis":{"values":[60,70,80,90],"labelOverlap":false}},"y":{"datum":50.5,"axis":{"values":[0,10,20,30,40,50],"labelOverlap":false}},"text":{"value":"² = 9.72 x 10⁻³"}}},
  {"data":{"values":[{}]},"mark":{"type":"text","fontSize":11,"fontStyle":"italic","baseline":"middle","align":"right"},"encoding":{"x":{"datum":79.8,"axis":{"values":[60,70,80,90],"labelOverlap":false}},"y":{"datum":43.2,"axis":{"values":[0,10,20,30,40,50],"labelOverlap":false}},"text":{"value":"p"}}},
  {"data":{"values":[{}]},"mark":{"type":"text","fontSize":11,"baseline":"middle","align":"left","dx":3},"encoding":{"x":{"datum":79.8,"axis":{"values":[60,70,80,90],"labelOverlap":false}},"y":{"datum":43.2,"axis":{"values":[0,10,20,30,40,50],"labelOverlap":false}},"text":{"value":"= 0.174"}}},
  {"data":{"values":[{}]},"mark":{"type":"text","fontSize":11,"baseline":"middle"},"encoding":{"x":{"datum":84.9,"axis":{"values":[60,70,80,90],"labelOverlap":false}},"y":{"datum":34.2,"axis":{"values":[0,10,20,30,40,50],"labelOverlap":false}},"text":{"value":"[192]"}}}
 ]},
{"width":141,"height":94,"title":{"text":"I","dx":-63},
 "layer":[
  {"data":{"name":"I"},"mark":{"type":"square","size":5,"color":"#000","opacity":1},
   "encoding":{"x":{"field":"x","type":"quantitative","title":"Age","scale":{"domain":[55,90],"nice":false},"axis":{"values":[60,70,80,90],"labelOverlap":false}},
   "y":{"field":"y","type":"quantitative","title":"% methylation","scale":{"domain":[0,25],"nice":false},"axis":{"values":[0,5,10,15,20,25],"labelOverlap":false}}}},
  {"data":{"name":"Il"},"mark":{"type":"line","color":"#777","strokeWidth":1},"encoding":{"x":{"field":"x","type":"quantitative","title":"Age","axis":{"values":[60,70,80,90],"labelOverlap":false}},"y":{"field":"y","type":"quantitative","title":"% methylation","axis":{"values":[0,5,10,15,20,25],"labelOverlap":false}}}},
  {"data":{"values":[{}]},"mark":{"type":"text","fontSize":14,"fontStyle":"italic","baseline":"middle"},"encoding":{"x":{"datum":75.6,"axis":{"values":[60,70,80,90],"labelOverlap":false}},"y":{"datum":32.4,"axis":{"values":[0,5,10,15,20,25],"labelOverlap":false}},"text":{"value":"PICALM"}}},
  {"data":{"values":[{}]},"mark":{"type":"text","fontSize":11,"fontStyle":"italic","baseline":"middle","align":"right"},"encoding":{"x":{"datum":79.3,"axis":{"values":[60,70,80,90],"labelOverlap":false}},"y":{"datum":25.5,"axis":{"values":[0,5,10,15,20,25],"labelOverlap":false}},"text":{"value":"R"}}},
  {"data":{"values":[{}]},"mark":{"type":"text","fontSize":11,"baseline":"middle","align":"left"},"encoding":{"x":{"datum":79.3,"axis":{"values":[60,70,80,90],"labelOverlap":false}},"y":{"datum":25.5,"axis":{"values":[0,5,10,15,20,25],"labelOverlap":false}},"text":{"value":"² = 8.99 x 10⁻⁴"}}},
  {"data":{"values":[{}]},"mark":{"type":"text","fontSize":11,"fontStyle":"italic","baseline":"middle","align":"right"},"encoding":{"x":{"datum":81.6,"axis":{"values":[60,70,80,90],"labelOverlap":false}},"y":{"datum":22.1,"axis":{"values":[0,5,10,15,20,25],"labelOverlap":false}},"text":{"value":"p"}}},
  {"data":{"values":[{}]},"mark":{"type":"text","fontSize":11,"baseline":"middle","align":"left","dx":3},"encoding":{"x":{"datum":81.6,"axis":{"values":[60,70,80,90],"labelOverlap":false}},"y":{"datum":22.1,"axis":{"values":[0,5,10,15,20,25],"labelOverlap":false}},"text":{"value":"= 0.773"}}},
  {"data":{"values":[{}]},"mark":{"type":"text","fontSize":11,"baseline":"middle"},"encoding":{"x":{"datum":85.5,"axis":{"values":[60,70,80,90],"labelOverlap":false}},"y":{"datum":17.6,"axis":{"values":[0,5,10,15,20,25],"labelOverlap":false}},"text":{"value":"[96]"}}}
 ]}
]
}
